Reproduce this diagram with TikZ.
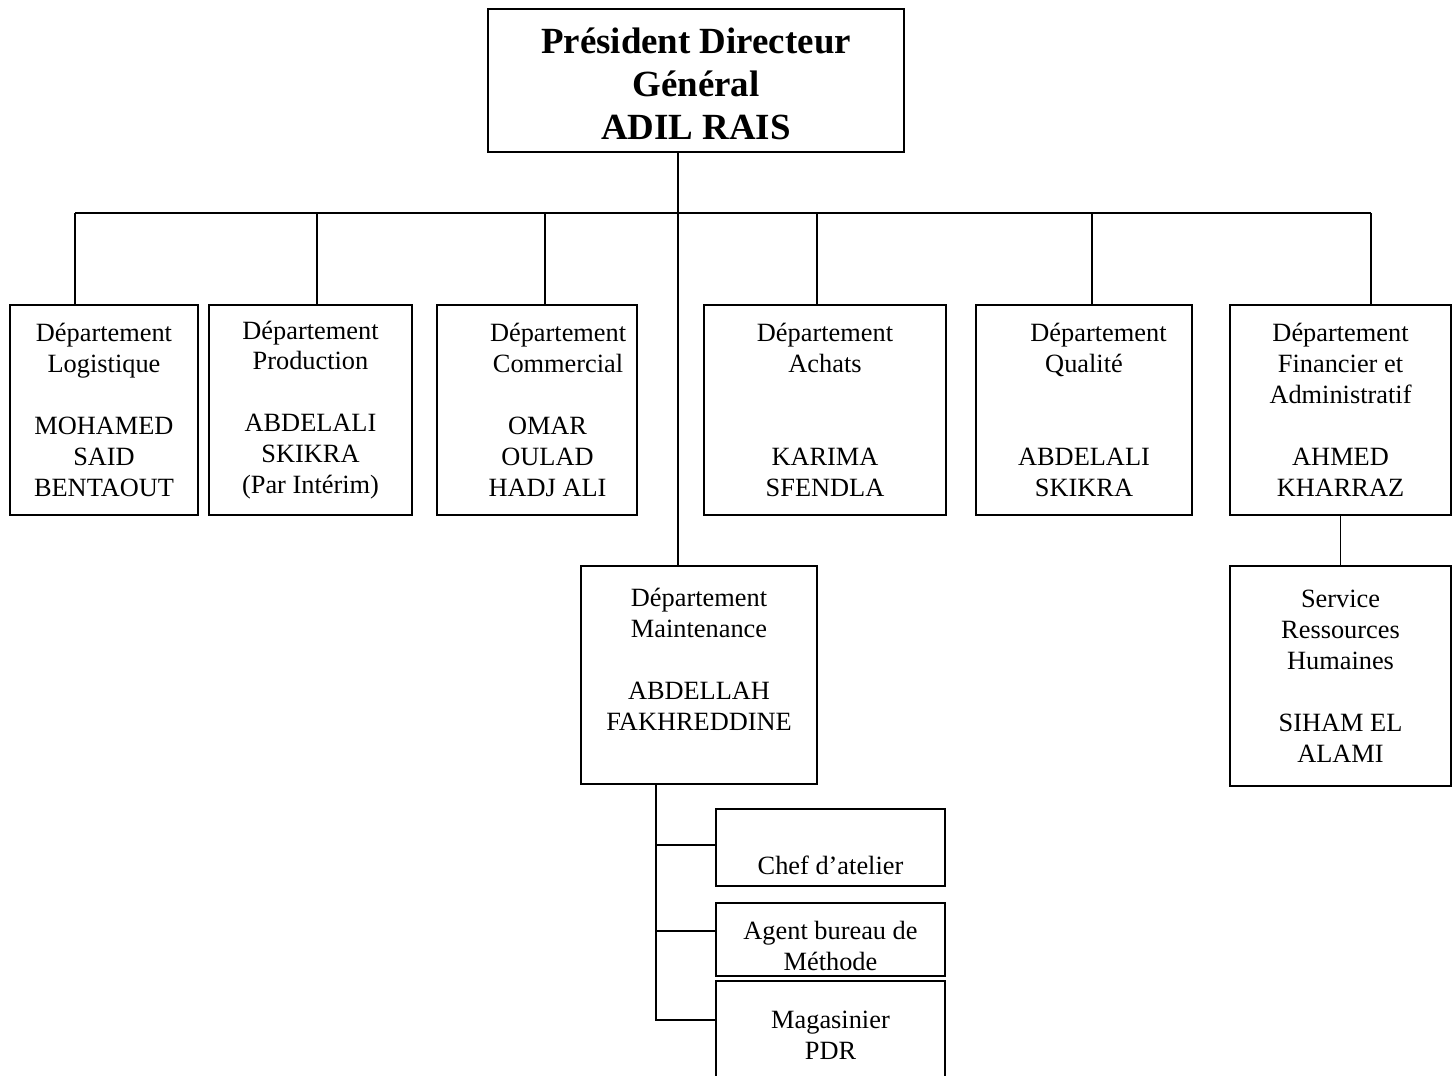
\documentclass[tikz,border=0pt]{standalone}
\usepackage{fontspec}
\setmainfont{Liberation Serif}

\begin{document}
\begin{tikzpicture}[x=0.02cm, y=-0.02cm]
	\clip (0,0) rectangle (1456,1075);
	\fill[white] (0,0) rectangle (1456,1075);
	\tikzset{Box/.style 2 args = {draw, line width=1pt, align=center, inner sep=0pt,
		minimum width=#1*0.02cm, minimum height=#2*0.02cm,
		font=\fontsize{15}{17.6}\selectfont},
	Link/.style = {line width=0.8pt}}
	%\node[draw] at (0,0){};
	\node[Box={416}{143}, font=\fontsize{21}{24.5}\selectfont\bfseries] (pdg) at (696,80.5) {\mbox{}\\[-5.9pt]Président Directeur\\Général\\ADIL RAIS};
	\node[Box={188}{210}] (log) at (104,410) {Département\\Logistique\\[17.6pt]MOHAMED\\SAID\\BENTAOUT};
	\node[Box={203}{210}] (prod) at (310.5,410) {Département\\Production\\[17.6pt]ABDELALI\\SKIKRA\\(Par Intérim)};
	\node[Box={200}{210}] (com) at (537,410) {\hspace*{1.6em}Département\\\hspace*{1.6em}Commercial\\[17.6pt]\hspace*{0.8em}OMAR\\\hspace*{0.8em}OULAD\\\hspace*{0.8em}HADJ ALI};
	\node[Box={242}{210}] (ach) at (825,410) {Département\\Achats\\[35.2pt]KARIMA\\SFENDLA};
	\node[Box={216}{210}] (qual) at (1084,410) {\hspace*{1.1em}Département\\Qualité\hspace*{1.1em}\\[35.2pt]ABDELALI\\SKIKRA};
	\node[Box={221}{210}] (fin) at (1340.5,410) {Département\\Financier et\\Administratif\\[17.6pt]AHMED\\KHARRAZ};
	\node[Box={236}{218}] (maint) at (699,675) {Département\\Maintenance\\[17.6pt]ABDELLAH\\FAKHREDDINE\\\mbox{}};
	\node[Box={221}{220}] (rh) at (1340.5,676) {Service\\Ressources\\Humaines\\[17.6pt]SIHAM EL\\ALAMI};
	\node[Box={229}{77}, text height=31pt, text depth=0pt] (chef) at (830.5,847.5) {Chef d’atelier};
	\node[Box={229}{73}] (agent) at (830.5,939.5) {\mbox{}\\Agent bureau de\\Méthode};
	\node[Box={229}{109}] (mag) at (830.5,1035.5) {Magasinier\\PDR};
	% links
	\coordinate (trunk) at (678,213);
	\draw[Link] (trunk |- pdg.south) -- (trunk |- maint.north);
	\foreach \n/\x in {log/75, prod/317, com/545, ach/817, qual/1092, fin/1371}{
		\coordinate (d\n) at (\x,213);
		\draw[Link] (d\n) -- (d\n |- \n.north);
	}
	\draw[Link] (dlog) -- (dfin);
	\coordinate (sub) at (656,784);
	\foreach \n/\y in {chef/845, agent/931, mag/1020}
		\draw[Link] (sub) |- (\n.west |- 0,\y);
	\draw[Link] (fin.south) -- (rh.north);
\end{tikzpicture}
\end{document}
